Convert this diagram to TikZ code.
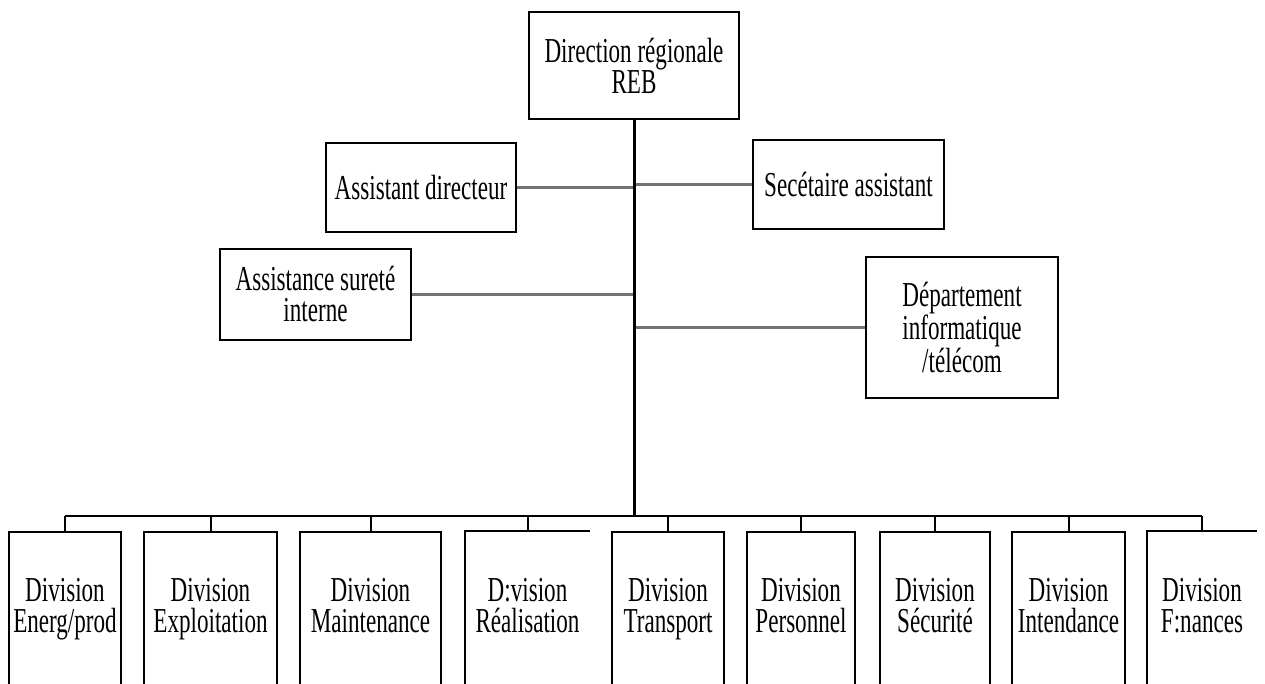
\documentclass[tikz,border=0pt]{standalone}
\usepackage{fontspec}
\newfontfamily\labfont[FakeStretch=0.66]{Liberation Serif}
\begin{document}
\begin{tikzpicture}[x=1pt,y=1pt,
  box/.style={draw, line width=1.7pt, inner sep=0pt, align=center,
    font={\labfont\fontsize{35}{31}\selectfont}},
  divbox/.style={draw, line width=1.7pt, inner sep=0pt, anchor=north, minimum height=200pt},
  openbox/.style={inner sep=0pt, anchor=north, minimum height=200pt},
  boxline/.style={line width=1.7pt},
  lab/.style={inner sep=0pt, align=center, anchor=base, font={\labfont\fontsize{35}{31}\selectfont}},
  side/.style={line width=2.6pt, draw=black!55},
  mainline/.style={line width=3pt, draw=black},
  busline/.style={line width=2.8pt, draw=black},
  stub/.style={line width=2pt, draw=black}]
\fill[white] (0,0) rectangle (1265,-684);
\useasboundingbox (0,0) rectangle (1265,-684);

% upper boxes
\node[box, minimum width=210pt, minimum height=107pt] (top) at (634,-65.5) {Direction régionale\\REB};
\node[box, minimum width=190pt, minimum height=89pt] (ad) at (421,-187.5) {Assistant directeur};
\node[box, minimum width=191pt, minimum height=89pt] (sa) at (848.5,-184.5) {Secétaire assistant};
\node[box, minimum width=191pt, minimum height=91pt] (as) at (315.5,-294.5) {Assistance sureté\\interne};
\node[box, minimum width=192pt, minimum height=141pt] (dep) at (962,-327.5) {Département\\informatique\\/télécom};

% lower boxes
\node[divbox, minimum width=112pt] (d1) at (65,-531) {};
\node[divbox, minimum width=133pt] (d2) at (210.5,-531) {};
\node[divbox, minimum width=141pt] (d3) at (370.5,-531) {};
\node[openbox, minimum width=125pt] (d4) at (527.5,-531) {};
\node[divbox, minimum width=112pt] (d5) at (668,-531) {};
\node[divbox, minimum width=108pt] (d6) at (801,-531) {};
\node[divbox, minimum width=110pt] (d7) at (935,-531) {};
\node[divbox, minimum width=113pt] (d8) at (1068.5,-531) {};
\node[openbox, minimum width=110pt] (d9) at (1202,-531) {};
\draw[boxline] (d4.south west) -- (d4.north west) -- (d4.north east);
\draw[boxline] (d9.south west) -- (d9.north west) -- (d9.north east);

\node[lab] (t1) at ([yshift=-101pt]d1.north) {Division\\Energ/prod};
\node[lab] (t2) at ([yshift=-101pt]d2.north) {Division\\Exploitation};
\node[lab] (t3) at ([yshift=-101pt]d3.north) {Division\\Maintenance};
\node[lab] (t4) at ([yshift=-101pt]d4.north) {D:vision\\Réalisation};
\node[lab] (t5) at ([yshift=-101pt]d5.north) {Division\\Transport};
\node[lab] (t6) at ([yshift=-101pt]d6.north) {Division\\Personnel};
\node[lab] (t7) at ([yshift=-101pt]d7.north) {Division\\Sécurité};
\node[lab] (t8) at ([yshift=-101pt]d8.north) {Division\\Intendance};
\node[lab] (t9) at ([yshift=-101pt]d9.north) {Division\\F:nances};

% connectors
\coordinate (bus) at (634,-516);
\draw[side] (ad.east) -- (ad.east -| top.south);
\draw[side] (as.east) -- (as.east -| top.south);
\draw[side] (sa.west -| top.south) -- (sa.west);
\draw[side] (dep.west -| top.south) -- (dep.west);
\draw[mainline] (top.south) -- (bus);
\draw[busline] (d1.north |- bus) -- (d9.north |- bus);
\foreach \i in {1,...,9} {
  \draw[stub] (d\i.north |- bus) -- (d\i.north);
}
\end{tikzpicture}
\end{document}
